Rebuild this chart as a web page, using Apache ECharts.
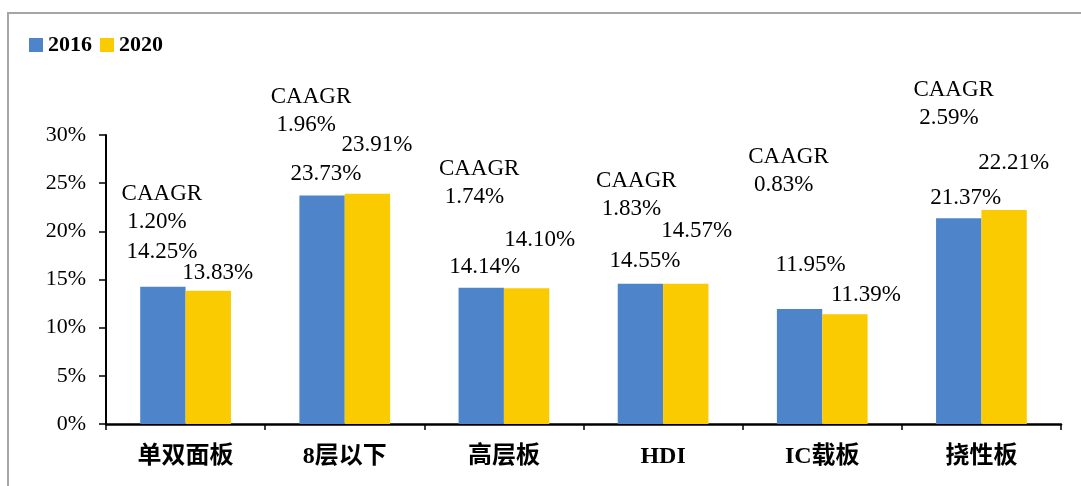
<!DOCTYPE html>
<html>
<head>
<meta charset="utf-8">
<script src="https://cdn.jsdelivr.net/npm/echarts@6/dist/echarts.min.js"></script>
<style>
  html, body { margin: 0; padding: 0; background: #fff; }
  #chart { width: 1081px; height: 486px; }
</style>
</head>
<body>
<div id="chart"></div>
<script>
// 数据
const categories = ['单双面板', '8层以下', '高层板', 'HDI', 'IC载板', '挠性板']
const share2016 = [14.25, 23.73, 14.14, 14.55, 11.95, 21.37]
const share2020 = [13.83, 23.91, 14.10, 14.57, 11.39, 22.21]
const caagr = ['1.20%', '1.96%', '1.74%', '1.83%', '0.83%', '2.59%']
const yTicks = [0, 5, 10, 15, 20, 25, 30]

// 标签位置（像素偏移，仿原图手动摆放）
const shift2016 = [[-1, -24], [4, -10], [3.5, -10], [4.5, -12], [11, -33], [7, -9]]
const shift2020 = [[9.5, -7], [9.5, -38], [13, -37], [11, -42], [21, -8], [9.5, -36]]
const shiftCaagr = [[-64, -79], [-74, -84], [-65, -105], [-67, -89], [-74, -138], [-68, -114]]

const serif = '"Liberation Serif", "Times New Roman", serif'
const chart = echarts.init(document.getElementById('chart'))

const barLabel = {
  show: true,
  position: 'top',
  distance: 0,
  color: '#000',
  fontFamily: serif,
  fontSize: 23,
  lineHeight: 22,
  formatter: p => p.value.toFixed(2) + '%'
}

chart.setOption({
  animation: false,
  graphic: [{
    type: 'rect',
    shape: { x: 8, y: 13, width: 1100, height: 500 },
    style: { fill: 'none', stroke: '#a6a6a6', lineWidth: 2 },
    silent: true
  }],
  legend: {
    data: ['2016', '2020'],
    left: 24,
    top: 29,
    itemWidth: 14,
    itemHeight: 14,
    itemGap: 8,
    icon: 'rect',
    textStyle: { fontFamily: serif, fontWeight: 'bold', fontSize: 22, color: '#000' }
  },
  grid: { left: 106, right: 20, top: 135, bottom: 62 },
  xAxis: {
    type: 'category',
    data: categories,
    axisLine: { lineStyle: { color: '#000', width: 2.5 } },
    axisTick: { show: true, length: 6, lineStyle: { color: '#000', width: 1.5 } },
    axisLabel: {
      margin: 21,
      color: '#000',
      fontSize: 24,
      fontWeight: 'bold',
      fontFamily: '"Liberation Serif", "Noto Sans CJK SC", serif'
    }
  },
  yAxis: {
    type: 'value',
    min: yTicks[0],
    max: yTicks[yTicks.length - 1],
    interval: yTicks[1] - yTicks[0],
    splitLine: { show: false },
    axisLine: { show: true, lineStyle: { color: '#000', width: 2 } },
    axisTick: { show: true, length: 7, lineStyle: { color: '#000', width: 1.5 } },
    axisLabel: {
      margin: 20,
      color: '#000',
      fontSize: 22,
      fontFamily: serif,
      formatter: '{value}%'
    }
  },
  series: [
    {
      name: '2016',
      type: 'bar',
      barGap: 0,
      barCategoryGap: '43%',
      itemStyle: { color: '#4E85CA' },
      data: share2016.map((v, i) => ({ value: v, label: { offset: shift2016[i] } })),
      label: barLabel
    },
    {
      name: '2020',
      type: 'bar',
      itemStyle: { color: '#FACB00' },
      data: share2020.map((v, i) => ({ value: v, label: { offset: shift2020[i] } })),
      label: barLabel
    },
    {
      name: 'CAAGR',
      type: 'scatter',
      symbolSize: 0,
      silent: true,
      z: 5,
      itemStyle: { opacity: 1 },
      data: share2016.map((v, i) => ({ value: [i, v], label: { offset: shiftCaagr[i] } })),
      label: {
        show: true,
        position: [0, 0],
        align: 'left',
        verticalAlign: 'middle',
        color: '#000',
        opacity: 1,
        fontFamily: serif,
        fontSize: 23,
        lineHeight: 28,
        formatter: p => 'CAAGR\n ' + caagr[p.dataIndex]
      }
    }
  ]
})
</script>
</body>
</html>
